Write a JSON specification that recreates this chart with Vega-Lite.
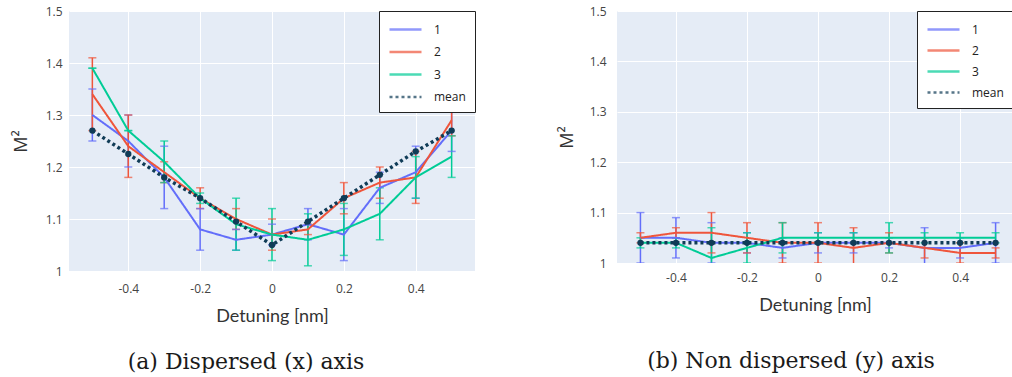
{
  "$schema": "https://vega.github.io/schema/vega-lite/v6.json",
  "background": "white",
  "padding": {"left": 12, "top": 5, "right": 0, "bottom": 0},
  "datasets": {
    "pts": [
      {"panel":"a","series":"1","x":-0.5,"y":1.30,"lo":1.25,"hi":1.35},
      {"panel":"a","series":"1","x":-0.4,"y":1.25,"lo":1.20,"hi":1.30},
      {"panel":"a","series":"1","x":-0.3,"y":1.18,"lo":1.12,"hi":1.24},
      {"panel":"a","series":"1","x":-0.2,"y":1.08,"lo":1.04,"hi":1.12},
      {"panel":"a","series":"1","x":-0.1,"y":1.06,"lo":1.04,"hi":1.08},
      {"panel":"a","series":"1","x":0,"y":1.07,"lo":1.05,"hi":1.09},
      {"panel":"a","series":"1","x":0.1,"y":1.09,"lo":1.06,"hi":1.12},
      {"panel":"a","series":"1","x":0.2,"y":1.07,"lo":1.02,"hi":1.12},
      {"panel":"a","series":"1","x":0.3,"y":1.16,"lo":1.13,"hi":1.19},
      {"panel":"a","series":"1","x":0.4,"y":1.19,"lo":1.14,"hi":1.24},
      {"panel":"a","series":"1","x":0.5,"y":1.27,"lo":1.23,"hi":1.31},
      {"panel":"a","series":"2","x":-0.5,"y":1.34,"lo":1.27,"hi":1.41},
      {"panel":"a","series":"2","x":-0.4,"y":1.24,"lo":1.18,"hi":1.30},
      {"panel":"a","series":"2","x":-0.3,"y":1.19,"lo":1.17,"hi":1.21},
      {"panel":"a","series":"2","x":-0.2,"y":1.14,"lo":1.12,"hi":1.16},
      {"panel":"a","series":"2","x":-0.1,"y":1.10,"lo":1.08,"hi":1.12},
      {"panel":"a","series":"2","x":0,"y":1.07,"lo":1.04,"hi":1.10},
      {"panel":"a","series":"2","x":0.1,"y":1.08,"lo":1.07,"hi":1.09},
      {"panel":"a","series":"2","x":0.2,"y":1.14,"lo":1.11,"hi":1.17},
      {"panel":"a","series":"2","x":0.3,"y":1.17,"lo":1.14,"hi":1.20},
      {"panel":"a","series":"2","x":0.4,"y":1.18,"lo":1.13,"hi":1.23},
      {"panel":"a","series":"2","x":0.5,"y":1.29,"lo":1.26,"hi":1.32},
      {"panel":"a","series":"3","x":-0.5,"y":1.39,"lo":1.39,"hi":1.39},
      {"panel":"a","series":"3","x":-0.4,"y":1.27,"lo":1.27,"hi":1.27},
      {"panel":"a","series":"3","x":-0.3,"y":1.21,"lo":1.17,"hi":1.25},
      {"panel":"a","series":"3","x":-0.2,"y":1.14,"lo":1.13,"hi":1.15},
      {"panel":"a","series":"3","x":-0.1,"y":1.09,"lo":1.04,"hi":1.14},
      {"panel":"a","series":"3","x":0,"y":1.07,"lo":1.02,"hi":1.12},
      {"panel":"a","series":"3","x":0.1,"y":1.06,"lo":1.01,"hi":1.11},
      {"panel":"a","series":"3","x":0.2,"y":1.08,"lo":1.03,"hi":1.13},
      {"panel":"a","series":"3","x":0.3,"y":1.11,"lo":1.06,"hi":1.16},
      {"panel":"a","series":"3","x":0.4,"y":1.18,"lo":1.14,"hi":1.22},
      {"panel":"a","series":"3","x":0.5,"y":1.22,"lo":1.18,"hi":1.26},
      {"panel":"a","series":"mean","x":-0.5,"y":1.27},
      {"panel":"a","series":"mean","x":-0.4,"y":1.225},
      {"panel":"a","series":"mean","x":-0.3,"y":1.18},
      {"panel":"a","series":"mean","x":-0.2,"y":1.14},
      {"panel":"a","series":"mean","x":-0.1,"y":1.095},
      {"panel":"a","series":"mean","x":0,"y":1.05},
      {"panel":"a","series":"mean","x":0.1,"y":1.095},
      {"panel":"a","series":"mean","x":0.2,"y":1.14},
      {"panel":"a","series":"mean","x":0.3,"y":1.185},
      {"panel":"a","series":"mean","x":0.4,"y":1.23},
      {"panel":"a","series":"mean","x":0.5,"y":1.27},
      {"panel":"b","series":"1","x":-0.5,"y":1.05,"lo":1.00,"hi":1.10},
      {"panel":"b","series":"1","x":-0.4,"y":1.05,"lo":1.01,"hi":1.09},
      {"panel":"b","series":"1","x":-0.3,"y":1.04,"lo":1.00,"hi":1.08},
      {"panel":"b","series":"1","x":-0.2,"y":1.04,"lo":1.02,"hi":1.06},
      {"panel":"b","series":"1","x":-0.1,"y":1.03,"lo":1.01,"hi":1.05},
      {"panel":"b","series":"1","x":0,"y":1.04,"lo":1.02,"hi":1.06},
      {"panel":"b","series":"1","x":0.1,"y":1.04,"lo":1.02,"hi":1.06},
      {"panel":"b","series":"1","x":0.2,"y":1.04,"lo":1.03,"hi":1.05},
      {"panel":"b","series":"1","x":0.3,"y":1.03,"lo":0.99,"hi":1.07},
      {"panel":"b","series":"1","x":0.4,"y":1.03,"lo":1.01,"hi":1.05},
      {"panel":"b","series":"1","x":0.5,"y":1.04,"lo":1.00,"hi":1.08},
      {"panel":"b","series":"2","x":-0.5,"y":1.05,"lo":1.04,"hi":1.06},
      {"panel":"b","series":"2","x":-0.4,"y":1.06,"lo":1.05,"hi":1.07},
      {"panel":"b","series":"2","x":-0.3,"y":1.06,"lo":1.02,"hi":1.10},
      {"panel":"b","series":"2","x":-0.2,"y":1.05,"lo":1.02,"hi":1.08},
      {"panel":"b","series":"2","x":-0.1,"y":1.04,"lo":1.00,"hi":1.08},
      {"panel":"b","series":"2","x":0,"y":1.04,"lo":1.00,"hi":1.08},
      {"panel":"b","series":"2","x":0.1,"y":1.03,"lo":0.99,"hi":1.07},
      {"panel":"b","series":"2","x":0.2,"y":1.04,"lo":1.02,"hi":1.06},
      {"panel":"b","series":"2","x":0.3,"y":1.03,"lo":1.01,"hi":1.05},
      {"panel":"b","series":"2","x":0.4,"y":1.02,"lo":1.00,"hi":1.04},
      {"panel":"b","series":"2","x":0.5,"y":1.02,"lo":1.01,"hi":1.03},
      {"panel":"b","series":"3","x":-0.5,"y":1.04,"lo":1.03,"hi":1.05},
      {"panel":"b","series":"3","x":-0.4,"y":1.04,"lo":1.03,"hi":1.05},
      {"panel":"b","series":"3","x":-0.3,"y":1.01,"lo":0.95,"hi":1.07},
      {"panel":"b","series":"3","x":-0.2,"y":1.03,"lo":1.00,"hi":1.06},
      {"panel":"b","series":"3","x":-0.1,"y":1.05,"lo":1.02,"hi":1.08},
      {"panel":"b","series":"3","x":0,"y":1.05,"lo":1.04,"hi":1.06},
      {"panel":"b","series":"3","x":0.1,"y":1.05,"lo":1.04,"hi":1.06},
      {"panel":"b","series":"3","x":0.2,"y":1.05,"lo":1.02,"hi":1.08},
      {"panel":"b","series":"3","x":0.3,"y":1.05,"lo":1.04,"hi":1.06},
      {"panel":"b","series":"3","x":0.4,"y":1.05,"lo":1.04,"hi":1.06},
      {"panel":"b","series":"3","x":0.5,"y":1.05,"lo":1.04,"hi":1.06},
      {"panel":"b","series":"mean","x":-0.5,"y":1.04},
      {"panel":"b","series":"mean","x":-0.4,"y":1.04},
      {"panel":"b","series":"mean","x":-0.3,"y":1.04},
      {"panel":"b","series":"mean","x":-0.2,"y":1.04},
      {"panel":"b","series":"mean","x":-0.1,"y":1.04},
      {"panel":"b","series":"mean","x":0,"y":1.04},
      {"panel":"b","series":"mean","x":0.1,"y":1.04},
      {"panel":"b","series":"mean","x":0.2,"y":1.04},
      {"panel":"b","series":"mean","x":0.3,"y":1.04},
      {"panel":"b","series":"mean","x":0.4,"y":1.04},
      {"panel":"b","series":"mean","x":0.5,"y":1.04}
    ]
  },
  "align": "none",
  "spacing": 82,
  "resolve": {
    "scale": {"x": "independent", "y": "independent", "color": "independent", "strokeDash": "independent"},
    "legend": {"color": "independent", "strokeDash": "independent"}
  },
  "hconcat": [
    {
      "width": 406,
      "height": 260,
      "data": {"name": "pts"},
      "transform": [{"filter": "datum.panel === 'a'"}],
      "title": {"text": "(a) Dispersed (x) axis", "orient": "bottom", "anchor": "middle", "offset": 27, "dx": -26},
      "encoding": {
        "x": {
          "field": "x", "type": "quantitative",
          "scale": {"domain": [-0.565, 0.565], "nice": false, "zero": false},
          "axis": {"values": [-0.4, -0.2, 0, 0.2, 0.4], "format": "~g", "labelExpr": "replace(datum.label, '\u2212', '-')", "labelPadding": 12, "titlePadding": 13},
          "title": "Detuning [nm]"
        },
        "color": {
          "field": "series", "type": "nominal",
          "scale": {"domain": ["1", "2", "3", "mean"], "range": ["#636efa", "#ef553b", "#00cc96", "#103c57"]},
          "legend": {
            "title": null, "orient": "top-right", "offset": 0,
            "fillColor": "white", "strokeColor": "#222", "padding": 9,
            "symbolType": "M-2,0L2,0", "symbolSize": 256, "symbolStrokeWidth": 2.5, "symbolOffset": 8,
            "labelFont": "Open Sans", "labelFontSize": 12, "labelColor": "#222", "labelOffset": 19, "rowPadding": 6.5
          }
        },
        "strokeDash": {
          "field": "series", "type": "nominal",
          "scale": {"domain": ["1", "2", "3", "mean"], "range": [[1, 0], [1, 0], [1, 0], [3, 3]]},
          "legend": {
            "title": null, "orient": "top-right", "offset": 0,
            "fillColor": "white", "strokeColor": "#222", "padding": 9,
            "symbolType": "M-2,0L2,0", "symbolSize": 256, "symbolStrokeWidth": 2.5, "symbolOffset": 8,
            "labelFont": "Open Sans", "labelFontSize": 12, "labelColor": "#222", "labelOffset": 19, "rowPadding": 6.5
          }
        }
      },
      "layer": [
        {
          "transform": [{"filter": "datum.series !== 'mean'"}],
          "mark": {"type": "rule", "strokeWidth": 1.5, "clip": true},
          "encoding": {
            "y": {"field": "lo", "type": "quantitative", "scale": {"domain": [1, 1.5], "nice": false, "zero": false},
                  "axis": {"values": [1, 1.1, 1.2, 1.3, 1.4, 1.5], "format": "~g", "labelPadding": 7, "titlePadding": 15}, "title": "M²"},
            "y2": {"field": "hi"}
          }
        },
        {
          "transform": [{"filter": "datum.series !== 'mean'"}],
          "mark": {"type": "tick", "orient": "horizontal", "size": 8, "thickness": 1.5, "clip": true},
          "encoding": {"y": {"field": "lo", "type": "quantitative"}}
        },
        {
          "transform": [{"filter": "datum.series !== 'mean'"}],
          "mark": {"type": "tick", "orient": "horizontal", "size": 8, "thickness": 1.5, "clip": true},
          "encoding": {"y": {"field": "hi", "type": "quantitative"}}
        },
        {
          "transform": [{"filter": "datum.series !== 'mean'"}],
          "mark": {"type": "line", "strokeWidth": 2, "clip": true},
          "encoding": {"y": {"field": "y", "type": "quantitative"}}
        },
        {
          "transform": [{"filter": "datum.series === 'mean'"}],
          "mark": {"type": "line", "strokeWidth": 3.5, "clip": true},
          "encoding": {"y": {"field": "y", "type": "quantitative"}}
        },
        {
          "transform": [{"filter": "datum.series === 'mean'"}],
          "mark": {"type": "point", "filled": true, "size": 40, "opacity": 1, "clip": true},
          "encoding": {"y": {"field": "y", "type": "quantitative"}}
        }
      ]
    },
    {
      "width": 396,
      "height": 252,
      "data": {"name": "pts"},
      "transform": [{"filter": "datum.panel === 'b'"}],
      "title": {"text": "(b) Non dispersed (y) axis", "orient": "bottom", "anchor": "middle", "offset": 37, "dx": -24},
      "encoding": {
        "x": {
          "field": "x", "type": "quantitative",
          "scale": {"domain": [-0.566, 0.549], "nice": false, "zero": false},
          "axis": {"values": [-0.4, -0.2, 0, 0.2, 0.4], "format": "~g", "labelExpr": "replace(datum.label, '\u2212', '-')", "labelPadding": 9, "titlePadding": 13},
          "title": "Detuning [nm]"
        },
        "color": {
          "field": "series", "type": "nominal",
          "scale": {"domain": ["1", "2", "3", "mean"], "range": ["#636efa", "#ef553b", "#00cc96", "#103c57"]},
          "legend": {
            "title": null, "orient": "top-right", "offset": 0,
            "fillColor": "white", "strokeColor": "#222", "padding": 9,
            "symbolType": "M-2,0L2,0", "symbolSize": 256, "symbolStrokeWidth": 2.5, "symbolOffset": 8,
            "labelFont": "Open Sans", "labelFontSize": 12, "labelColor": "#222", "labelOffset": 19, "rowPadding": 5
          }
        },
        "strokeDash": {
          "field": "series", "type": "nominal",
          "scale": {"domain": ["1", "2", "3", "mean"], "range": [[1, 0], [1, 0], [1, 0], [3, 3]]},
          "legend": {
            "title": null, "orient": "top-right", "offset": 0,
            "fillColor": "white", "strokeColor": "#222", "padding": 9,
            "symbolType": "M-2,0L2,0", "symbolSize": 256, "symbolStrokeWidth": 2.5, "symbolOffset": 8,
            "labelFont": "Open Sans", "labelFontSize": 12, "labelColor": "#222", "labelOffset": 19, "rowPadding": 5
          }
        }
      },
      "layer": [
        {
          "transform": [{"filter": "datum.series !== 'mean'"}],
          "mark": {"type": "rule", "strokeWidth": 1.5, "clip": true},
          "encoding": {
            "y": {"field": "lo", "type": "quantitative", "scale": {"domain": [1, 1.5], "nice": false, "zero": false},
                  "axis": {"values": [1, 1.1, 1.2, 1.3, 1.4, 1.5], "format": "~g", "labelPadding": 11, "titlePadding": 13}, "title": "M²"},
            "y2": {"field": "hi"}
          }
        },
        {
          "transform": [{"filter": "datum.series !== 'mean'"}],
          "mark": {"type": "tick", "orient": "horizontal", "size": 8, "thickness": 1.5, "clip": true},
          "encoding": {"y": {"field": "lo", "type": "quantitative"}}
        },
        {
          "transform": [{"filter": "datum.series !== 'mean'"}],
          "mark": {"type": "tick", "orient": "horizontal", "size": 8, "thickness": 1.5, "clip": true},
          "encoding": {"y": {"field": "hi", "type": "quantitative"}}
        },
        {
          "transform": [{"filter": "datum.series !== 'mean'"}],
          "mark": {"type": "line", "strokeWidth": 2, "clip": true},
          "encoding": {"y": {"field": "y", "type": "quantitative"}}
        },
        {
          "transform": [{"filter": "datum.series === 'mean'"}],
          "mark": {"type": "line", "strokeWidth": 3.5, "clip": true},
          "encoding": {"y": {"field": "y", "type": "quantitative"}}
        },
        {
          "transform": [{"filter": "datum.series === 'mean'"}],
          "mark": {"type": "point", "filled": true, "size": 40, "opacity": 1, "clip": true},
          "encoding": {"y": {"field": "y", "type": "quantitative"}}
        }
      ]
    }
  ],
  "config": {
    "view": {"fill": "#e5ecf6", "stroke": null},
    "axis": {
      "domain": false, "ticks": false, "tickSize": 0,
      "grid": true, "gridColor": "#ffffff", "gridWidth": 1,
      "labelFont": "Open Sans", "labelFontSize": 12, "labelColor": "#444",
      "titleFontWeight": "normal", "titleColor": "#333"
    },
    "axisX": {"titleFont": "Lato", "titleFontSize": 18},
    "axisY": {"titleFont": "Open Sans", "titleFontSize": 18},
    "title": {"font": "DejaVu Serif", "fontSize": 22, "fontWeight": "normal", "color": "#1a1a1a"}
  }
}
